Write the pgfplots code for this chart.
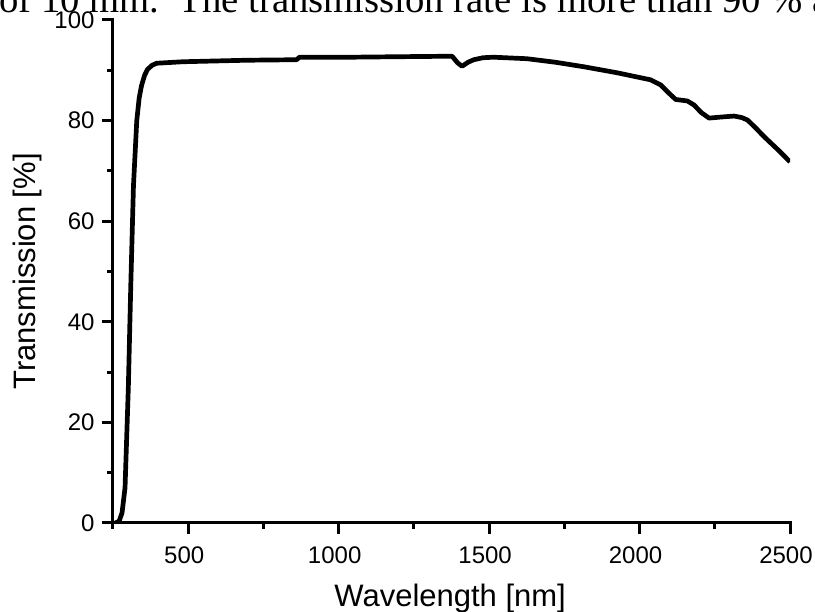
\documentclass[border=0pt]{standalone}
\usepackage{fontspec}
\setmainfont{Liberation Sans}
\newfontfamily\serifcap{Liberation Serif}
\usepackage{pgfplots}
\pgfplotsset{compat=1.18}
\begin{document}
\begin{tikzpicture}[x=1pt,y=1pt]
\useasboundingbox (0,0) rectangle (815,612);
\node[anchor=base west, inner sep=0pt] at (-1,599) {\fontsize{38.7}{42}\selectfont\serifcap of 10 mm.\ \ The transmission rate is more than 90 \% a};
\begin{axis}[
  at={(113pt,89pt)}, anchor=south west,
  scale only axis, width=677pt, height=503pt,
  xmin=250, xmax=2500, ymin=0, ymax=100,
  axis lines*=left,
  axis line style={-, line width=3pt, line cap=rect},
  xtick={500,1000,1500,2000,2500},
  minor xtick={250,750,1250,1750,2250},
  ytick={0,20,40,60,80,100},
  minor ytick={10,30,50,70,90},
  tick align=outside,
  major tick length=11pt, minor tick length=6pt,
  every tick/.style={black, line width=3pt},
  tick label style={font=\fontsize{24}{28}\selectfont},
  xticklabel style={yshift=-9pt, xshift=-4pt},
  yticklabel style={xshift=-4pt},
  /pgf/number format/assume math mode=true,
  /pgf/number format/set thousands separator={},
  scaled ticks=false,
  xlabel={Wavelength [nm]},
  ylabel={Transmission [\%]},
  xlabel style={at={(axis description cs:0.498,-0.167)}, anchor=base, font=\fontsize{31}{36}\selectfont},
  ylabel style={at={(axis description cs:-0.1152,0.5)}, anchor=base, font=\fontsize{31}{36}\selectfont},
]
\addplot[black, line width=4.7pt, line join=round] coordinates {
(257,0) (270,0.3) (280,2) (290,7) (301,27) (309,47) (318,67) (329,80)
(337,84.5) (345,87) (355,89) (365,90.2) (380,91) (395,91.4) (483,91.7)
(695,92.0) (860,92.1) (870,92.6) (1039,92.6) (1200,92.7) (1377,92.8)
(1395,91.5) (1410,90.8) (1430,91.6) (1449,92.1) (1480,92.5) (1515,92.6)
(1626,92.3) (1720,91.6) (1815,90.7) (1926,89.5) (2037,88.1) (2070,87.1)
(2095,85.6) (2120,84.2) (2159,83.9) (2181,83.1) (2205,81.6) (2231,80.5)
(2270,80.7) (2314,80.9) (2340,80.6) (2359,80.1) (2385,78.6) (2414,76.8)
(2460,74.2) (2500,71.8)
};
\end{axis}
\end{tikzpicture}
\end{document}
